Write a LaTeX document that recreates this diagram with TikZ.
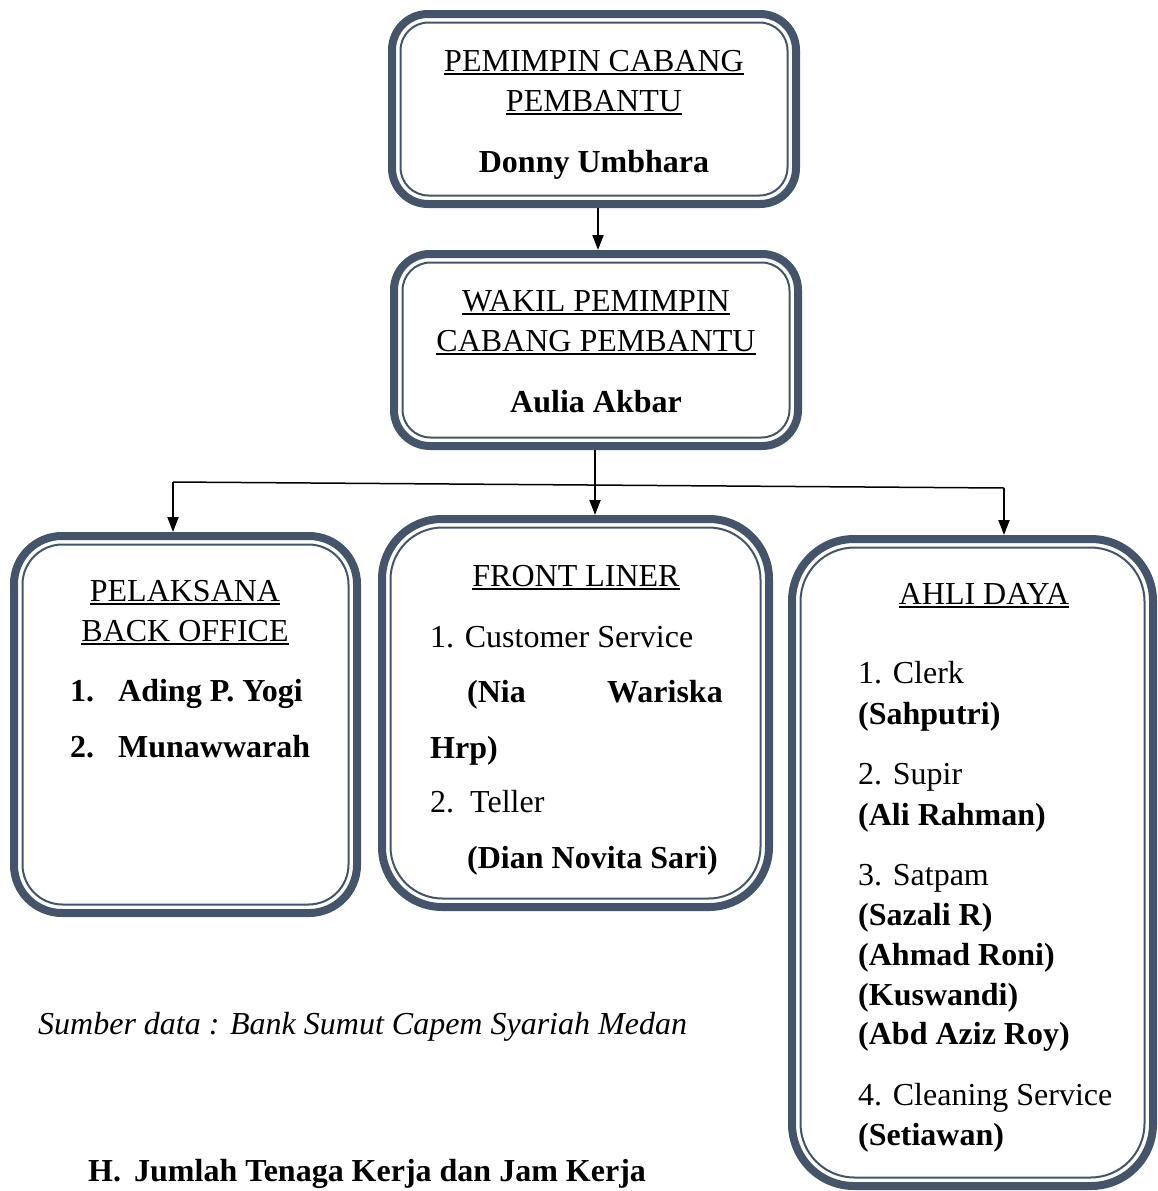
\documentclass[tikz,border=0pt]{standalone}
\usepackage{fontspec}
\setmainfont{Liberation Serif}
\usetikzlibrary{arrows.meta}
\definecolor{frame}{HTML}{44546A}
\newcommand\myul[1]{\setbox0\hbox{#1}\rlap{\rule[-4pt]{\wd0}{1.8pt}}\box0}
\tikzset{
  box/.style={draw=frame, line width=8pt, fill=white, inner sep=0pt},
  inner/.style={draw=frame, line width=2pt},
  txt/.style={inner sep=0pt, font=\fontsize{32}{40}\selectfont},
  tw/.style={txt, anchor=base west},
  tc/.style={txt, anchor=base},
  arr/.style={line width=2pt, -{Triangle[length=15pt,width=11pt]}},
  conn/.style={line width=1.5pt},
}
\newcommand\innerline[2]{% name, radius
  \draw[inner, rounded corners=#2] ([xshift=12.5pt,yshift=-12.5pt]#1.north west) rectangle ([xshift=-12.5pt,yshift=12.5pt]#1.south east);}
\begin{document}
\begin{tikzpicture}[x=1pt,y=-1pt]
\useasboundingbox (0,0) rectangle (1157,1191);
\fill[white] (0,0) rectangle (1157,1191);
\begin{scope}
\clip (0,0) rectangle (1157,1191);
% boxes
\node[box, rounded corners=36pt, minimum width=404pt, minimum height=190pt] (b1) at (594,109) {};
\innerline{b1}{28pt}
\node[box, rounded corners=36pt, minimum width=404pt, minimum height=192pt] (b2) at (596,350) {};
\innerline{b2}{28pt}
\node[box, rounded corners=48pt, minimum width=343pt, minimum height=377pt] (b3) at (185.5,724.5) {};
\innerline{b3}{40pt}
\node[box, rounded corners=60pt, minimum width=387pt, minimum height=388pt] (b4) at (575.5,713) {};
\innerline{b4}{52pt}
\node[box, rounded corners=62pt, minimum width=361pt, minimum height=647pt] (b5) at (972.5,862.5) {};
\innerline{b5}{54pt}
\end{scope}
% connectors
\draw[arr] ([xshift=4pt]b1.south) -- ([xshift=4pt]b1.south |- b2.north);
\draw[arr] ([xshift=-1pt]b2.south) -- ([xshift=-1pt]b2.south |- b4.north);
\coordinate (hl) at (173,482);
\coordinate (hr) at (1004,488);
\draw[conn] (hl) -- (hr);
\draw[arr] (hl) -- (hl |- b3.north);
\draw[arr] (hr) -- (hr |- b5.north);
% box 1
\node[tc] (t11) at (594,71) {\myul{PEMIMPIN CABANG}};
\node[tc] (t12) at (594,111) {\myul{PEMBANTU}};
\node[tc] (t13) at (594,172) {\bfseries Donny Umbhara};
% box 2
\node[tc] (t21) at (596,311) {\myul{WAKIL PEMIMPIN}};
\node[tc] (t22) at (596,351) {\myul{CABANG PEMBANTU}};
\node[tc] (t23) at (596,412) {\bfseries Aulia Akbar};
% box 3
\node[tc] (t31) at (185,601) {\myul{PELAKSANA}};
\node[tc] (t32) at (185,641) {\myul{BACK OFFICE}};
\node[tw] (t33) at (70,701) {\bfseries 1.};
\node[tw] (t34) at (118,701) {\bfseries Ading P. Yogi};
\node[tw] (t35) at (70,757) {\bfseries 2.};
\node[tw] (t36) at (118,757) {\bfseries Munawwarah};
% box 4
\node[tc] (t41) at (576,586) {\myul{FRONT LINER}};
\node[tw] (t42) at (430,647) {1. Customer Service};
\node[tw] (t43) at (467,702) {\bfseries (Nia};
\node[tw] (t44) at (607,702) {\bfseries Wariska};
\node[tw] (t45) at (430,758) {\bfseries Hrp)};
\node[tw] (t46) at (430,812) {2.};
\node[tw] (t47) at (470,812) {Teller};
\node[tw] (t48) at (467,868) {\bfseries (Dian Novita Sari)};
% box 5
\node[tc] (t51) at (984,604) {\myul{AHLI DAYA}};
\node[tw] (t52) at (858,683) {1. Clerk};
\node[tw] (t53) at (858,724) {\bfseries (Sahputri)};
\node[tw] (t54) at (858,784) {2. Supir};
\node[tw] (t55) at (858,825) {\bfseries (Ali Rahman)};
\node[tw] (t56) at (858,885) {3. Satpam};
\node[tw] (t57) at (858,925) {\bfseries (Sazali R)};
\node[tw] (t58) at (858,965) {\bfseries (Ahmad Roni)};
\node[tw] (t59) at (858,1005) {\bfseries (Kuswandi)};
\node[tw] (t510) at (858,1044) {\bfseries (Abd Aziz Roy)};
\node[tw] (t511) at (858,1105) {4. Cleaning Service};
\node[tw] (t512) at (858,1145) {\bfseries (Setiawan)};
% footer
\node[tw] (src) at (38,1034) {\itshape Sumber data : Bank Sumut Capem Syariah Medan};
\node[tw] (hh) at (88,1181) {\bfseries H.};
\node[tw] (hj) at (134,1181) {\bfseries Jumlah Tenaga Kerja dan Jam Kerja};
\end{tikzpicture}
\end{document}
